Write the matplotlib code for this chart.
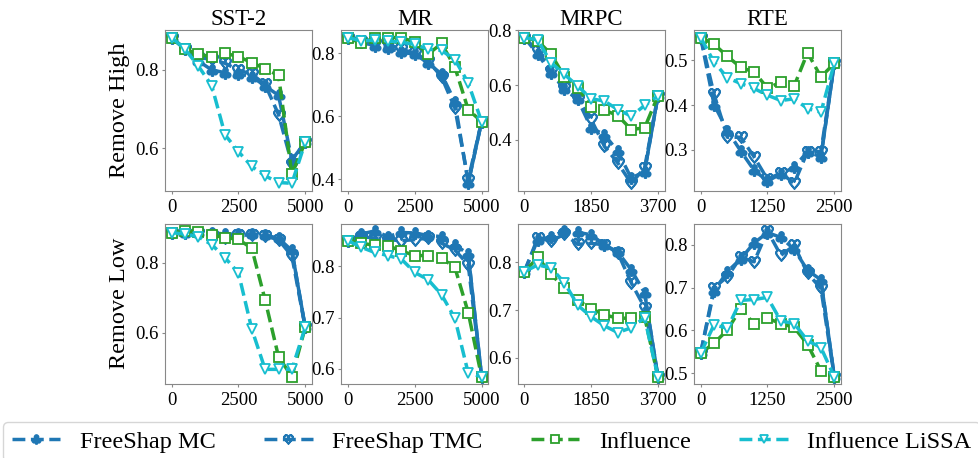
import numpy as np
import matplotlib
matplotlib.use('Agg')
from matplotlib import pyplot as plt

plt.rcParams['font.family'] = ['Liberation Serif', 'DejaVu Sans']
plt.rcParams['mathtext.fontset'] = 'dejavusans'

datasets = ['SST-2', 'MR', 'MRPC', 'RTE']
max_x = [5000, 5000, 3700, 2500]
rows = ['Remove High', 'Remove Low']
methods = ['FreeShap MC', 'FreeShap TMC', 'Influence', 'Influence LiSSA']

# remove high, one list per dataset
high_mc = [
    [0.883, 0.853, 0.823, 0.800, 0.793, 0.790, 0.783, 0.759, 0.735, 0.570, 0.615],
    [0.850, 0.835, 0.824, 0.817, 0.803, 0.797, 0.769, 0.734, 0.646, 0.387, 0.583],
    [0.774, 0.713, 0.645, 0.584, 0.547, 0.443, 0.418, 0.357, 0.259, 0.283, 0.560],
    [0.551, 0.401, 0.343, 0.297, 0.254, 0.230, 0.246, 0.261, 0.296, 0.284, 0.493],
]
high_tmc = [
    [0.883, 0.853, 0.832, 0.827, 0.817, 0.800, 0.789, 0.763, 0.686, 0.560, 0.615],
    [0.850, 0.839, 0.833, 0.828, 0.813, 0.800, 0.776, 0.725, 0.626, 0.398, 0.583],
    [0.774, 0.725, 0.652, 0.590, 0.547, 0.474, 0.375, 0.314, 0.240, 0.296, 0.560],
    [0.551, 0.424, 0.328, 0.328, 0.284, 0.234, 0.248, 0.225, 0.296, 0.296, 0.493],
]
high_inf = [
    [0.883, 0.853, 0.840, 0.834, 0.843, 0.834, 0.819, 0.803, 0.786, 0.534, 0.615],
    [0.850, 0.831, 0.850, 0.850, 0.850, 0.835, 0.797, 0.831, 0.756, 0.621, 0.583],
    [0.774, 0.762, 0.713, 0.631, 0.590, 0.520, 0.508, 0.488, 0.437, 0.443, 0.560],
    [0.551, 0.536, 0.509, 0.484, 0.474, 0.438, 0.451, 0.443, 0.517, 0.463, 0.493],
]
high_lissa = [
    [0.883, 0.853, 0.810, 0.760, 0.634, 0.591, 0.553, 0.529, 0.512, 0.510, 0.615],
    [0.850, 0.839, 0.842, 0.839, 0.835, 0.828, 0.813, 0.809, 0.780, 0.706, 0.583],
    [0.774, 0.765, 0.682, 0.639, 0.596, 0.550, 0.541, 0.510, 0.486, 0.525, 0.560],
    [0.551, 0.496, 0.461, 0.448, 0.437, 0.422, 0.410, 0.414, 0.392, 0.384, 0.493],
]

# remove low
low_mc = [
    [0.886, 0.886, 0.886, 0.886, 0.882, 0.882, 0.882, 0.879, 0.870, 0.835, 0.615],
    [0.850, 0.863, 0.869, 0.858, 0.866, 0.865, 0.860, 0.858, 0.842, 0.824, 0.585],
    [0.780, 0.846, 0.853, 0.865, 0.862, 0.857, 0.836, 0.821, 0.784, 0.736, 0.561],
    [0.547, 0.692, 0.737, 0.767, 0.804, 0.828, 0.817, 0.789, 0.740, 0.718, 0.492],
]
low_tmc = [
    [0.886, 0.884, 0.884, 0.880, 0.872, 0.879, 0.879, 0.876, 0.866, 0.819, 0.615],
    [0.850, 0.858, 0.855, 0.852, 0.850, 0.852, 0.855, 0.845, 0.832, 0.803, 0.585],
    [0.780, 0.850, 0.844, 0.858, 0.837, 0.839, 0.836, 0.819, 0.757, 0.705, 0.561],
    [0.547, 0.700, 0.725, 0.771, 0.760, 0.832, 0.775, 0.798, 0.733, 0.698, 0.492],
]
low_inf = [
    [0.884, 0.891, 0.889, 0.879, 0.872, 0.867, 0.841, 0.693, 0.531, 0.474, 0.615],
    [0.850, 0.845, 0.841, 0.840, 0.830, 0.821, 0.821, 0.816, 0.798, 0.710, 0.585],
    [0.779, 0.810, 0.775, 0.745, 0.720, 0.703, 0.690, 0.683, 0.683, 0.686, 0.561],
    [0.547, 0.570, 0.601, 0.651, 0.615, 0.628, 0.616, 0.607, 0.567, 0.506, 0.492],
]
low_lissa = [
    [0.886, 0.882, 0.874, 0.852, 0.814, 0.771, 0.610, 0.495, 0.495, 0.495, 0.615],
    [0.850, 0.837, 0.827, 0.821, 0.814, 0.788, 0.774, 0.745, 0.699, 0.592, 0.585],
    [0.780, 0.794, 0.788, 0.757, 0.710, 0.686, 0.667, 0.653, 0.663, 0.684, 0.561],
    [0.547, 0.613, 0.605, 0.670, 0.672, 0.677, 0.622, 0.616, 0.576, 0.560, 0.492],
]

yticks = [
    [[0.6, 0.8], [0.4, 0.6, 0.8], [0.4, 0.6, 0.8], [0.3, 0.4, 0.5]],
    [[0.6, 0.8], [0.6, 0.7, 0.8], [0.6, 0.7, 0.8], [0.5, 0.6, 0.7, 0.8]],
]

colors = ['#1f77b4', '#1f77b4', '#2ca02c', '#17becf']
markers = [r'$\clubsuit$', r'$\heartsuit$', 's', 'v']
msizes = [8, 8, 7, 7]

fig, axes = plt.subplots(2, 4, figsize=(9.79, 4.58), dpi=100)
fig.subplots_adjust(left=0.1685, right=0.859, bottom=0.1616, top=0.934,
                    wspace=0.2, hspace=0.206)

all_data = [[high_mc, high_tmc, high_inf, high_lissa],
            [low_mc, low_tmc, low_inf, low_lissa]]

handles = []
for r in range(2):
    for c in range(4):
        ax = axes[r, c]
        x = np.linspace(0, max_x[c], 11)
        for m in range(4):
            y = np.array(all_data[r][m][c])
            mfc = colors[m] if m < 2 else 'white'
            h, = ax.plot(x, y, '--', color=colors[m], lw=2.5, marker=markers[m],
                         ms=msizes[m], mfc=mfc, mec=colors[m], mew=1.3,
                         label=methods[m])
            if m == 0:
                ax.plot(x[-2:], y[-2:], '-', color=colors[m], lw=2.5)
            if r == 0 and c == 0:
                handles.append(h)
        ax.set_xticks([0, max_x[c] // 2, max_x[c]])
        ax.set_yticks(yticks[r][c])
        ax.tick_params(labelsize=13.5, length=2.5, color='#888888')
        ax.tick_params(axis='y', pad=2)
        for s in ax.spines.values():
            s.set_color('#888888')
        if r == 0:
            ax.set_title(datasets[c], fontsize=16.5, pad=3)
        if c == 0:
            ax.set_ylabel(rows[r], fontsize=17.5)

fig.legend(handles=handles, loc='upper left', bbox_to_anchor=(3 / 979, 1 - 422 / 458),
           borderaxespad=0, borderpad=0.35, ncol=4, fontsize=17.5,
           columnspacing=2.0, handlelength=2.0, handletextpad=0.8,
           markerscale=0.8, fancybox=True)

plt.savefig('out.png', dpi=100)
